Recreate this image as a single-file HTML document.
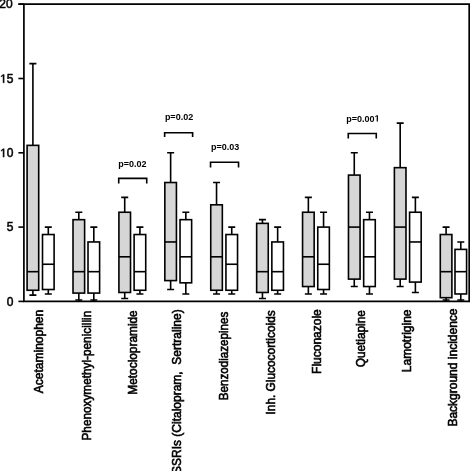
<!DOCTYPE html>
<html><head><meta charset="utf-8"><style>
html,body{margin:0;padding:0;background:#fff;}
body{width:470px;height:471px;overflow:hidden;}
svg{display:block;}
text{font-family:"Liberation Sans",sans-serif;font-size:12px;fill:#000;stroke:none;}
text.p{font-size:9px;font-weight:bold;}
.p{stroke:#000;stroke-width:0.0px;fill:#000;}
text.y{font-size:12px;}
.y{stroke:#000;stroke-width:0.5px;fill:#000;}
path.y,path.p{vector-effect:non-scaling-stroke;}
text.l{stroke:#000;stroke-width:0.6px;}
svg{filter:grayscale(1);}
</style></head><body>
<svg width="470" height="471" viewBox="0 0 470 471">
<g fill="none" stroke="#000" stroke-width="1.6">
<path d="M18.4 4.20H469.2V301.40H23.9V4.20" stroke-width="1.7"/>
<path d="M18.4 301.40H24"/>
<text class="y" x="6.73" y="305.70">0</text>
<path d="M18.4 227.10H24"/>
<text class="y" x="6.73" y="231.40">5</text>
<path d="M18.4 152.80H24"/>
<text class="y" x="0.05" y="157.10"> 0</text><path class="y" transform="translate(0.052,157.100) scale(0.005859,-0.005859)" d="M515 0V1237L197 1010V1180L530 1409H696V0Z"/>
<path d="M18.4 78.50H24"/>
<text class="y" x="0.05" y="82.80"> 5</text><path class="y" transform="translate(0.052,82.800) scale(0.005859,-0.005859)" d="M515 0V1237L197 1010V1180L530 1409H696V0Z"/>
<path d="M18.4 4.20H24"/>
<text class="y" x="-0.75" y="7.70">20</text>
</g>
<g stroke="#000" stroke-width="1.6" fill="none">
<path d="M32.90 145.37V63.64M29.40 63.64H36.40"/>
<path d="M32.90 290.25V295.16M29.40 295.16H36.40"/>
<rect x="27.10" y="145.37" width="11.60" height="144.89" fill="#d6d6d6"/>
<path d="M27.10 271.68H38.70"/>
<path d="M48.30 234.53V227.10M44.80 227.10H51.80"/>
<path d="M48.30 289.51V293.97M44.80 293.97H51.80"/>
<rect x="42.50" y="234.53" width="11.60" height="54.98" fill="#fff"/>
<path d="M42.50 264.25H54.10"/>
<path d="M78.81 219.67V212.24M75.31 212.24H82.31"/>
<path d="M78.81 293.08V301.40M75.31 300.00H82.31"/>
<rect x="73.01" y="219.67" width="11.60" height="73.41" fill="#d6d6d6"/>
<path d="M73.01 271.68H84.61"/>
<path d="M93.81 241.96V227.10M90.31 227.10H97.31"/>
<path d="M93.81 293.08V301.40M90.31 300.00H97.31"/>
<rect x="88.01" y="241.96" width="11.60" height="51.12" fill="#fff"/>
<path d="M88.01 271.68H99.61"/>
<path d="M124.72 212.24V197.38M121.22 197.38H128.22"/>
<path d="M124.72 292.48V298.43M121.22 298.43H128.22"/>
<rect x="118.92" y="212.24" width="11.60" height="80.24" fill="#d6d6d6"/>
<path d="M118.92 256.82H130.52"/>
<path d="M139.92 234.53V227.10M136.42 227.10H143.42"/>
<path d="M139.92 290.25V293.97M136.42 293.97H143.42"/>
<rect x="134.12" y="234.53" width="11.60" height="55.73" fill="#fff"/>
<path d="M134.12 271.68H145.72"/>
<path d="M170.63 182.52V152.80M167.13 152.80H174.13"/>
<path d="M170.63 280.60V289.51M167.13 289.51H174.13"/>
<rect x="164.83" y="182.52" width="11.60" height="98.08" fill="#d6d6d6"/>
<path d="M164.83 241.96H176.43"/>
<path d="M185.83 219.67V212.24M182.33 212.24H189.33"/>
<path d="M185.83 282.82V293.97M182.33 293.97H189.33"/>
<rect x="180.03" y="219.67" width="11.60" height="63.16" fill="#fff"/>
<path d="M180.03 256.82H191.63"/>
<path d="M216.54 204.81V182.52M213.04 182.52H220.04"/>
<path d="M216.54 290.25V293.97M213.04 293.97H220.04"/>
<rect x="210.74" y="204.81" width="11.60" height="85.45" fill="#d6d6d6"/>
<path d="M210.74 256.82H222.34"/>
<path d="M231.74 234.53V227.10M228.24 227.10H235.24"/>
<path d="M231.74 290.25V293.97M228.24 293.97H235.24"/>
<rect x="225.94" y="234.53" width="11.60" height="55.73" fill="#fff"/>
<path d="M225.94 264.25H237.54"/>
<path d="M262.45 223.38V219.67M258.95 219.67H265.95"/>
<path d="M262.45 292.48V298.43M258.95 298.43H265.95"/>
<rect x="256.65" y="223.38" width="11.60" height="69.10" fill="#d6d6d6"/>
<path d="M256.65 271.68H268.25"/>
<path d="M277.65 241.96V227.10M274.15 227.10H281.15"/>
<path d="M277.65 290.25V293.97M274.15 293.97H281.15"/>
<rect x="271.85" y="241.96" width="11.60" height="48.30" fill="#fff"/>
<path d="M271.85 271.68H283.45"/>
<path d="M308.36 212.24V197.38M304.86 197.38H311.86"/>
<path d="M308.36 286.54V293.97M304.86 293.97H311.86"/>
<rect x="302.56" y="212.24" width="11.60" height="74.30" fill="#d6d6d6"/>
<path d="M302.56 256.82H314.16"/>
<path d="M323.56 227.10V212.24M320.06 212.24H327.06"/>
<path d="M323.56 289.51V293.97M320.06 293.97H327.06"/>
<rect x="317.76" y="227.10" width="11.60" height="62.41" fill="#fff"/>
<path d="M317.76 264.25H329.36"/>
<path d="M354.27 175.09V152.80M350.77 152.80H357.77"/>
<path d="M354.27 279.11V286.54M350.77 286.54H357.77"/>
<rect x="348.47" y="175.09" width="11.60" height="104.02" fill="#d6d6d6"/>
<path d="M348.47 227.10H360.07"/>
<path d="M369.47 219.67V212.24M365.97 212.24H372.97"/>
<path d="M369.47 286.54V293.97M365.97 293.97H372.97"/>
<rect x="363.67" y="219.67" width="11.60" height="66.87" fill="#fff"/>
<path d="M363.67 256.82H375.27"/>
<path d="M400.18 167.66V123.08M396.68 123.08H403.68"/>
<path d="M400.18 279.11V286.54M396.68 286.54H403.68"/>
<rect x="394.38" y="167.66" width="11.60" height="111.45" fill="#d6d6d6"/>
<path d="M394.38 227.10H405.98"/>
<path d="M415.38 212.24V197.38M411.88 197.38H418.88"/>
<path d="M415.38 282.08V292.48M411.88 292.48H418.88"/>
<rect x="409.58" y="212.24" width="11.60" height="69.84" fill="#fff"/>
<path d="M409.58 241.96H421.18"/>
<path d="M446.09 234.53V227.10M442.59 227.10H449.59"/>
<path d="M446.09 297.69V301.40M442.59 300.00H449.59"/>
<rect x="440.29" y="234.53" width="11.60" height="63.16" fill="#d6d6d6"/>
<path d="M440.29 271.68H451.89"/>
<path d="M460.79 249.39V241.96M457.29 241.96H464.29"/>
<path d="M460.79 293.97V301.40M457.29 300.00H464.29"/>
<rect x="454.99" y="249.39" width="11.60" height="44.58" fill="#fff"/>
<path d="M454.99 271.68H466.59"/>
<path d="M118.72 183.60V178.40H146.72V183.60"/><text class="p" x="118.28" y="166.50">p=0.02</text>
<path d="M164.63 136.90V132.70H192.63V136.90"/><text class="p" x="164.89" y="119.70">p=0.02</text>
<path d="M210.54 167.60V162.30H238.54V167.60"/><text class="p" x="211.00" y="150.30">p=0.03</text>
<path d="M348.27 138.60V133.50H376.27V138.60"/><text class="p" x="346.33" y="121.50">p=0.00 </text><path class="p" transform="translate(374.602,121.500) scale(0.004395,-0.004395)" d="M478 0V1170L140 959V1180L493 1409H759V0Z"/>
</g>
<g>
<text class="l" transform="translate(42.80,309.80) rotate(-90)" text-anchor="end">Acetaminophen</text>
<text class="l" transform="translate(90.90,310.80) rotate(-90)" text-anchor="end" textLength="129.73" lengthAdjust="spacingAndGlyphs">Phenoxymethyl-penicillin</text>
<text class="l" transform="translate(137.00,310.30) rotate(-90)" text-anchor="end" textLength="84.35" lengthAdjust="spacingAndGlyphs">Metoclopramide</text>
<text class="l" transform="translate(180.80,309.30) rotate(-90)" text-anchor="end">SSRIs (Citalopram,  Sertraline)</text>
<text class="l" transform="translate(227.60,311.80) rotate(-90)" text-anchor="end" textLength="88.45" lengthAdjust="spacingAndGlyphs">Benzodiazepines</text>
<text class="l" transform="translate(274.60,310.30) rotate(-90)" text-anchor="end" textLength="104.16" lengthAdjust="spacingAndGlyphs">Inh. Glucocorticoids</text>
<text class="l" transform="translate(320.70,309.20) rotate(-90)" text-anchor="end">Fluconazole</text>
<text class="l" transform="translate(365.20,310.10) rotate(-90)" text-anchor="end" textLength="57.23" lengthAdjust="spacingAndGlyphs">Quetiapine</text>
<text class="l" transform="translate(411.30,309.50) rotate(-90)" text-anchor="end">Lamotrigine</text>
<text class="l" transform="translate(457.20,308.50) rotate(-90)" text-anchor="end">Background incidence</text>
</g>
</svg>
</body></html>
